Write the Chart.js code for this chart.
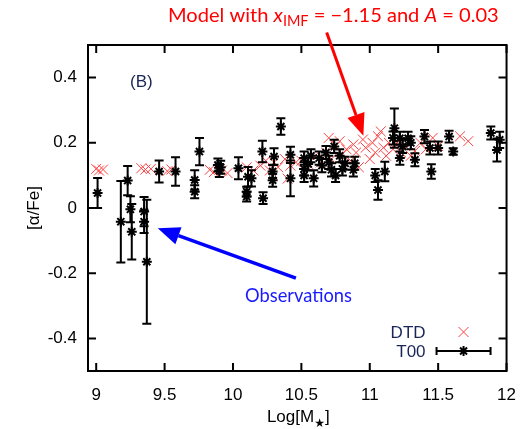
<!DOCTYPE html>
<html lang="en">
<head>
<meta charset="UTF-8">
<title>[α/Fe] vs Log[M★]</title>
<style>
  html, body { margin: 0; padding: 0; background: #fff; }
</style>
</head>
<body>
<canvas id="myChart" width="530" height="429"></canvas>

<script src="https://cdn.jsdelivr.net/npm/chart.js@4.4.1/dist/chart.umd.min.js"></script>
<script>
// T00 observations: log stellar mass, [alpha/Fe] and its error
var obsMass  = [9.01, 9.18, 9.23, 9.25, 9.26, 9.35, 9.35, 9.37, 9.46, 9.58,
                9.72, 9.72, 9.755, 9.89, 9.91, 9.90, 10.04, 10.11, 10.135, 10.10,
                10.10, 10.215, 10.22, 10.30, 10.29, 10.29, 10.35, 10.42, 10.42, 10.52,
                10.52, 10.52, 10.57, 10.59, 10.63, 10.65, 10.70, 10.74, 10.72, 10.75,
                10.78, 10.82, 10.89, 10.88, 11.04, 11.06, 11.11, 11.18, 11.17, 11.22,
                11.28, 11.24, 11.22, 11.33, 11.40, 11.44, 11.50, 11.45, 11.58, 11.61,
                11.885, 11.95, 11.93, 10.55, 10.68, 10.80, 11.30];
var obsAlpha = [0.046, -0.042, 0.084, -0.004, -0.073, -0.011, -0.042, -0.165, 0.112, 0.112,
                0.086, 0.050, 0.173, 0.132, 0.125, 0.115, 0.122, 0.096, 0.091, 0.050,
                0.035, 0.173, 0.030, 0.158, 0.112, 0.085, 0.250, 0.163, 0.091, 0.153,
                0.120, 0.100, 0.160, 0.091, 0.153, 0.130, 0.140, 0.189, 0.117, 0.100,
                0.160, 0.137, 0.137, 0.117, 0.100, 0.055, 0.112, 0.245, 0.215, 0.214,
                0.214, 0.189, 0.153, 0.148, 0.219, 0.184, 0.184, 0.112, 0.219, 0.173,
                0.230, 0.209, 0.178, 0.135, 0.170, 0.120, 0.200];
var obsErr   = [0.046, 0.125, 0.045, 0.040, 0.085, 0.045, 0.035, 0.190, 0.034, 0.044,
                0.030, 0.020, 0.042, 0.020, 0.020, 0.020, 0.034, 0.030, 0.025, 0.015,
                0.015, 0.033, 0.018, 0.025, 0.020, 0.020, 0.025, 0.025, 0.055, 0.020,
                0.020, 0.020, 0.020, 0.025, 0.020, 0.020, 0.020, 0.020, 0.020, 0.020,
                0.020, 0.020, 0.020, 0.020, 0.020, 0.030, 0.030, 0.060, 0.020, 0.020,
                0.020, 0.020, 0.020, 0.020, 0.020, 0.020, 0.020, 0.022, 0.018, 0.010,
                0.020, 0.025, 0.035, 0.020, 0.020, 0.020, 0.020];

// DTD model
var modelMass  = [9.00, 9.02, 9.05, 9.33, 9.36, 9.40, 9.52, 9.55, 9.83, 9.86,
                  9.92, 9.96, 10.10, 10.15, 10.20, 10.24, 10.27, 10.30, 10.33, 10.38,
                  10.40, 10.42, 10.46, 10.50, 10.55, 10.60, 10.64, 10.68, 10.70, 10.72,
                  10.75, 10.78, 10.80, 10.83, 10.86, 10.88, 10.90, 10.92, 10.95, 10.97,
                  11.00, 11.02, 11.04, 11.06, 11.08, 11.10, 11.12, 11.14, 11.17, 11.20,
                  11.23, 11.26, 11.30, 11.33, 11.37, 11.41, 11.46, 11.50, 11.66, 11.72];
var modelAlpha = [0.120, 0.115, 0.118, 0.122, 0.118, 0.120, 0.113, 0.118, 0.117, 0.110,
                  0.115, 0.107, 0.125, 0.115, 0.130, 0.145, 0.115, 0.140, 0.125, 0.150,
                  0.090, 0.130, 0.140, 0.145, 0.135, 0.160, 0.140, 0.170, 0.215, 0.150,
                  0.190, 0.205, 0.165, 0.180, 0.145, 0.195, 0.170, 0.125, 0.210, 0.185,
                  0.150, 0.200, 0.170, 0.220, 0.235, 0.185, 0.160, 0.200, 0.180, 0.200,
                  0.170, 0.190, 0.160, 0.175, 0.200, 0.180, 0.215, 0.190, 0.220, 0.205];

var xTicks = [9, 9.5, 10, 10.5, 11, 11.5, 12];
var yTicks = [-0.4, -0.2, 0, 0.2, 0.4];

var obsPoints = obsMass.map(function (m, i) { return { x: m, y: obsAlpha[i] }; });
var modelPoints = modelMass.map(function (m, i) { return { x: m, y: modelAlpha[i] }; });

var tickFont = { family: 'Liberation Sans', size: 17 };
var noteFont = 'Lato';

function drawArrow(ctx, x0, y0, x1, y1, color, width, headLen, headHalf) {
    var ang = Math.atan2(y1 - y0, x1 - x0);
    var bx = x1 - headLen * Math.cos(ang), by = y1 - headLen * Math.sin(ang);
    ctx.save();
    ctx.strokeStyle = color; ctx.fillStyle = color; ctx.lineWidth = width;
    ctx.beginPath(); ctx.moveTo(x0, y0); ctx.lineTo(bx, by); ctx.stroke();
    ctx.beginPath();
    ctx.moveTo(x1, y1);
    ctx.lineTo(bx + headHalf * Math.sin(ang), by - headHalf * Math.cos(ang));
    ctx.lineTo(bx - headHalf * Math.sin(ang), by + headHalf * Math.cos(ang));
    ctx.closePath(); ctx.fill();
    ctx.restore();
}

// error bars for the observations
var errorBars = {
    id: 'errorBars',
    afterDatasetsDraw: function (chart) {
        var ctx = chart.ctx, xs = chart.scales.x, ys = chart.scales.y, a = chart.chartArea;
        ctx.save();
        ctx.beginPath(); ctx.rect(a.left, a.top, a.right - a.left, a.bottom - a.top); ctx.clip();
        ctx.strokeStyle = '#000'; ctx.lineWidth = 2;
        for (var i = 0; i < obsMass.length; i++) {
            var px = xs.getPixelForValue(obsMass[i]);
            var lo = ys.getPixelForValue(obsAlpha[i] - obsErr[i]);
            var hi = ys.getPixelForValue(obsAlpha[i] + obsErr[i]);
            ctx.beginPath();
            ctx.moveTo(px, lo); ctx.lineTo(px, hi);
            ctx.moveTo(px - 4.5, lo); ctx.lineTo(px + 4.5, lo);
            ctx.moveTo(px - 4.5, hi); ctx.lineTo(px + 4.5, hi);
            ctx.stroke();
        }
        ctx.restore();
    }
};

// frame with inward ticks on all sides, legend, labels, arrows
var decorations = {
    id: 'decorations',
    afterDraw: function (chart) {
        var ctx = chart.ctx, xs = chart.scales.x, ys = chart.scales.y, a = chart.chartArea;
        ctx.save();
        ctx.strokeStyle = '#000'; ctx.lineWidth = 2;
        ctx.strokeRect(a.left, a.top, a.right - a.left, a.bottom - a.top);
        ctx.beginPath();
        xTicks.forEach(function (v) {
            var px = xs.getPixelForValue(v);
            ctx.moveTo(px, a.bottom); ctx.lineTo(px, a.bottom - 8);
            ctx.moveTo(px, a.top); ctx.lineTo(px, a.top + 8);
        });
        yTicks.forEach(function (v) {
            var py = ys.getPixelForValue(v);
            ctx.moveTo(a.left, py); ctx.lineTo(a.left + 8, py);
            ctx.moveTo(a.right, py); ctx.lineTo(a.right - 8, py);
        });
        ctx.stroke();

        // (B)
        ctx.fillStyle = '#1a2456';
        ctx.font = '17px "Liberation Sans"';
        ctx.textAlign = 'left'; ctx.textBaseline = 'alphabetic';
        ctx.fillText('(B)', a.left + 42, a.top + 42);

        // legend
        ctx.textAlign = 'right';
        ctx.fillText('DTD', a.right - 81, a.bottom - 33);
        ctx.fillText('T00', a.right - 81, a.bottom - 14);
        var lx = a.right - 43, ly1 = a.bottom - 39, ly2 = a.bottom - 20;
        ctx.strokeStyle = '#ff4040'; ctx.lineWidth = 1;
        ctx.beginPath();
        ctx.moveTo(lx - 5, ly1 - 5); ctx.lineTo(lx + 5, ly1 + 5);
        ctx.moveTo(lx - 5, ly1 + 5); ctx.lineTo(lx + 5, ly1 - 5);
        ctx.stroke();
        ctx.strokeStyle = '#000'; ctx.lineWidth = 2;
        ctx.beginPath();
        ctx.moveTo(lx - 27, ly2); ctx.lineTo(lx + 27, ly2);
        ctx.moveTo(lx - 27, ly2 - 4); ctx.lineTo(lx - 27, ly2 + 4);
        ctx.moveTo(lx + 27, ly2 - 4); ctx.lineTo(lx + 27, ly2 + 4);
        ctx.stroke();
        ctx.lineWidth = 2;
        ctx.beginPath();
        ctx.moveTo(lx, ly2 - 5); ctx.lineTo(lx, ly2 + 5);
        ctx.moveTo(lx - 5, ly2); ctx.lineTo(lx + 5, ly2);
        ctx.moveTo(lx - 3.5, ly2 - 3.5); ctx.lineTo(lx + 3.5, ly2 + 3.5);
        ctx.moveTo(lx - 3.5, ly2 + 3.5); ctx.lineTo(lx + 3.5, ly2 - 3.5);
        ctx.stroke();

        // x axis title with subscript star
        ctx.fillStyle = '#000';
        ctx.font = '17px "Liberation Sans"';
        var t1 = 'Log[M', t3 = ']';
        var w1 = ctx.measureText(t1).width, w3 = ctx.measureText(t3).width;
        ctx.font = '12px "DejaVu Sans"';
        var w2 = ctx.measureText('★').width;
        var cx = (a.left + a.right) / 2 + 1;
        var sx = cx - (w1 + w2 + w3) / 2;
        ctx.textAlign = 'left';
        ctx.font = '17px "Liberation Sans"';
        ctx.fillText(t1, sx, 422);
        ctx.font = '12px "DejaVu Sans"';
        ctx.fillText('★', sx + w1, 427);
        ctx.font = '17px "Liberation Sans"';
        ctx.fillText(t3, sx + w1 + w2, 422);

        // red annotation: title text
        var parts = [
            { t: 'Model with ', s: 1, st: '', dy: 0 },
            { t: 'x', s: 1, st: 'italic ', dy: 0 },
            { t: 'IMF', s: 0.72, st: '', dy: 4 },
            { t: ' = \u22121.15 and ', s: 1, st: '', dy: 0 },
            { t: 'A', s: 1, st: 'italic ', dy: 0 },
            { t: ' = 0.03', s: 1, st: '', dy: 0 }
        ];
        var base = 18, total = 0;
        parts.forEach(function (p) {
            ctx.font = p.st + (base * p.s) + 'px ' + noteFont;
            total += ctx.measureText(p.t).width;
        });
        var fs = base * 331 / total;
        var tx = 168;
        ctx.fillStyle = '#ff0000';
        parts.forEach(function (p) {
            ctx.font = p.st + (fs * p.s) + 'px ' + noteFont;
            ctx.fillText(p.t, tx, 22 + p.dy);
            tx += ctx.measureText(p.t).width;
        });
        drawArrow(ctx, xs.getPixelForValue(10.685), ys.getPixelForValue(0.538),
                  xs.getPixelForValue(10.953), ys.getPixelForValue(0.2215), '#ff0000', 3, 22, 9);

        // blue annotation
        ctx.font = '18px ' + noteFont;
        var ow = ctx.measureText('Observations').width;
        ctx.font = (18 * 107 / ow) + 'px ' + noteFont;
        ctx.fillStyle = '#1a1aff';
        ctx.fillText('Observations', 245, 302);
        drawArrow(ctx, xs.getPixelForValue(10.46), ys.getPixelForValue(-0.215),
                  xs.getPixelForValue(9.45), ys.getPixelForValue(-0.062), '#0000ff', 3.5, 22, 9);
        ctx.restore();
    }
};

var ctx = document.getElementById('myChart').getContext('2d');
var myChart = new Chart(ctx, {
    type: 'scatter',
    data: {
        datasets: [
            {
                label: 'T00',
                data: obsPoints,
                pointStyle: 'star',
                radius: 5,
                borderColor: '#000',
                backgroundColor: '#000',
                borderWidth: 2,
                order: 1
            },
            {
                label: 'DTD',
                data: modelPoints,
                pointStyle: 'crossRot',
                radius: 7,
                borderColor: '#ff4040',
                backgroundColor: '#ff4040',
                borderWidth: 1,
                order: 2
            }
        ]
    },
    options: {
        responsive: false,
        animation: false,
        layout: { padding: { top: 45, right: 21, left: 0, bottom: 0 } },
        plugins: { legend: { display: false }, tooltip: { enabled: false } },
        scales: {
            x: {
                type: 'linear',
                min: 8.94, max: 12,
                afterFit: function (s) { s.height = 58; },
                afterBuildTicks: function (s) { s.ticks = xTicks.map(function (v) { return { value: v }; }); },
                grid: { display: false, drawTicks: false },
                border: { display: false },
                ticks: {
                    autoSkip: false, maxRotation: 0, padding: 14, color: '#000', font: tickFont,
                    callback: function (v) { return String(v); }
                }
            },
            y: {
                type: 'linear',
                min: -0.5, max: 0.5,
                afterFit: function (s) { s.width = 88; },
                afterBuildTicks: function (s) { s.ticks = yTicks.map(function (v) { return { value: v }; }); },
                grid: { display: false, drawTicks: false },
                border: { display: false },
                ticks: {
                    padding: 11, color: '#000', font: tickFont,
                    callback: function (v) { return String(v); }
                },
                title: {
                    display: true, text: '[α/Fe]', color: '#000',
                    font: { family: 'Liberation Sans', size: 17 },
                    padding: { top: 24, bottom: 0 }
                }
            }
        }
    },
    plugins: [errorBars, decorations]
});
</script>
</body>
</html>
